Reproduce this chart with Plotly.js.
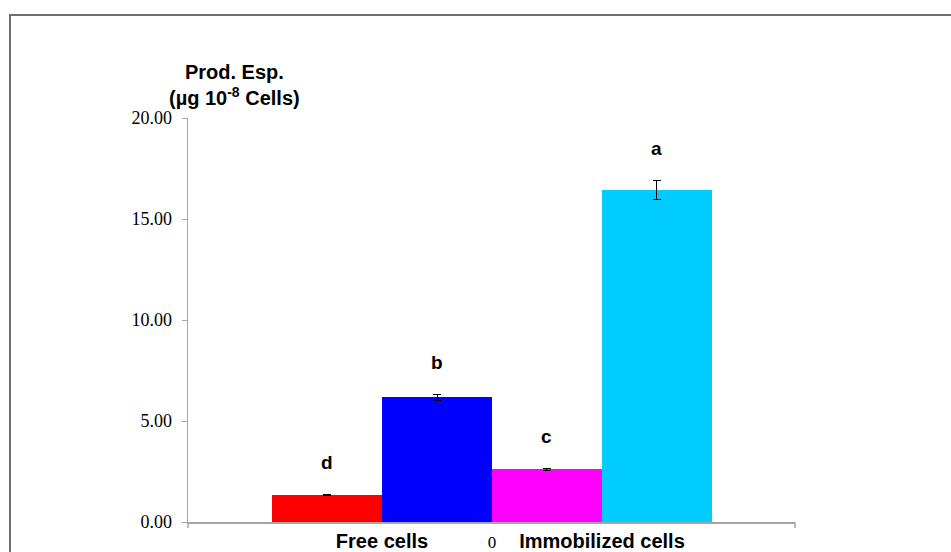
<!DOCTYPE html>
<html>
<head>
<meta charset="utf-8">
<script src="https://cdn.plot.ly/plotly-3.0.1.min.js"></script>
<style>
  html, body { margin: 0; padding: 0; background: #fff; }
  #wrap { position: relative; width: 951px; height: 552px; overflow: hidden; }
  #chart { position: absolute; left: 0; top: 0; width: 951px; height: 552px; }
  #frame { position: absolute; left: 9px; top: 14px; width: 1100px; height: 700px;
           border-left: 2px solid #6e6e6e; border-top: 2px solid #6e6e6e; pointer-events: none; }
</style>
</head>
<body>
<div id="wrap">
  <div id="chart"></div>
  <div id="frame"></div>
</div>
<script>
// Data
const categories = ["Free cells", "0", "Immobilized cells"];
const values = [1.33, 6.18, 2.62, 16.45];
const errors = [0.03, 0.15, 0.05, 0.47];
const letters = ["d", "b", "c", "a"];
const barColors = ["#FF0000", "#0000FF", "#FF00FF", "#00CCFF"];
const yTicks = [0, 5, 10, 15, 20];

const barIdx = values.map((v, i) => i);
const catPos = categories.map((c, i) => i + 0.5);
const catText = categories.map(c => isNaN(Number(c))
  ? '<b>' + c + '</b>'
  : '<span style="font-family:\'Liberation Serif\', \'Times New Roman\', serif;font-weight:normal;font-size:17px">' + c + '</span>');

const trace = {
  type: 'bar',
  x: barIdx,
  y: values,
  width: 1,
  marker: { color: barColors, line: { width: 0 } },
  error_y: { type: 'data', array: errors, visible: true, color: '#000', thickness: 1, width: 4 },
  hoverinfo: 'y'
};

const annotations = letters.map((t, i) => ({
  x: i, y: values[i] + errors[i], xref: 'x', yref: 'y',
  text: '<b>' + t + '</b>', showarrow: false,
  yanchor: 'middle', yshift: 32,
  font: { family: 'Liberation Sans, Arial, sans-serif', size: 19, color: '#000' }
}));
annotations.push({
  xref: 'paper', yref: 'paper', x: 0.077, y: 1.082, xanchor: 'center', yanchor: 'middle',
  text: '<b>Prod. Esp.<br>(µg 10<sup>-8</sup> Cells)</b>', showarrow: false, align: 'center',
  font: { family: 'Liberation Sans, Arial, sans-serif', size: 20, color: '#000' }
});

const layout = {
  width: 951, height: 552,
  margin: { l: 188, r: 156, t: 118, b: 30 },
  paper_bgcolor: '#fff', plot_bgcolor: '#fff',
  showlegend: false,
  bargap: 0,
  xaxis: {
    range: [-1.264, 4.255],
    tickmode: 'array', tickvals: catPos, ticktext: catText,
    ticks: '', showgrid: false, zeroline: false,
    showline: true, linecolor: '#a6a6a6', linewidth: 1.5,
    ticklabelstandoff: 0,
    tickfont: { family: 'Liberation Sans, Arial, sans-serif', size: 20, color: '#000' },
    fixedrange: true
  },
  yaxis: {
    range: [0, 20],
    tickmode: 'array', tickvals: yTicks, tickformat: '.2f',
    ticks: 'outside', ticklen: 5, tickcolor: '#a6a6a6', tickwidth: 1,
    ticklabelstandoff: 6,
    showgrid: false, zeroline: false,
    showline: true, linecolor: '#a6a6a6', linewidth: 1.5,
    tickfont: { family: 'Liberation Serif, Times New Roman, serif', size: 18, color: '#000' },
    fixedrange: true
  },
  shapes: [
    { type: 'line', xref: 'paper', yref: 'paper', x0: 1, x1: 1, y0: 0, y1: -0.015,
      line: { color: '#a6a6a6', width: 1.5 } },
    { type: 'line', xref: 'paper', yref: 'paper', x0: 0, x1: 0, y0: 0, y1: -0.015,
      line: { color: '#a6a6a6', width: 1.5 } }
  ],
  annotations: annotations
};

Plotly.newPlot('chart', [trace], layout, { displayModeBar: false, staticPlot: true });
</script>
</body>
</html>
